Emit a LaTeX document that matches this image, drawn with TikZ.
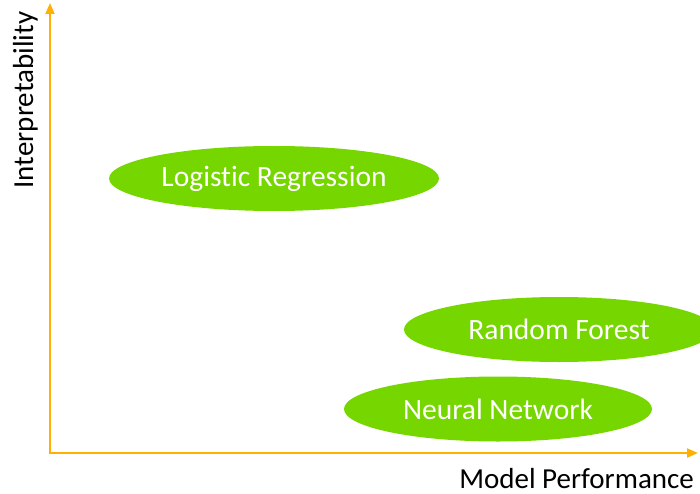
\documentclass[tikz,border=0pt]{standalone}
\usepackage{fontspec}
\setmainfont{Carlito}[Ligatures=CommonOff]
\usetikzlibrary{shapes,arrows.meta,calc}
\definecolor{axisorange}{RGB}{255,176,0}
\definecolor{modelgreen}{RGB}{118,214,0}

\begin{document}
\begin{tikzpicture}[x=1pt,y=-1pt,
	model/.style={ellipse, fill=modelgreen, text=white, inner sep=0pt, minimum height=65pt, font=\fontsize{29.5}{34}\selectfont},
	axislabel/.style={font=\fontsize{29}{34}\selectfont, inner sep=0pt}]
			\clip (0,0) rectangle (700,494);
			\coordinate (origin) at (50,453);
			\coordinate (x axis) at (698,453);
			\coordinate (y axis) at (50,3);
			\draw[axisorange, line width=2pt, {Triangle[length=11pt,width=9pt]}-{Triangle[length=11pt,width=9pt]}] (y axis) -- (origin) -- (x axis);
			\node[axislabel, anchor=base east] (perf) at (694,488) {Model Performance};
			\node[axislabel, anchor=base, rotate=90] (interp) at (33,100) {Interpretability};
			\node[model, minimum width=330pt] (logreg) at (274,178.5) {Logistic Regression};
			\node[model, minimum width=310pt] (forest) at (559,329.5) {Random Forest};
			\node[model, minimum width=308pt] (neural) at (498,409) {Neural Network};
		\end{tikzpicture}
\end{document}
